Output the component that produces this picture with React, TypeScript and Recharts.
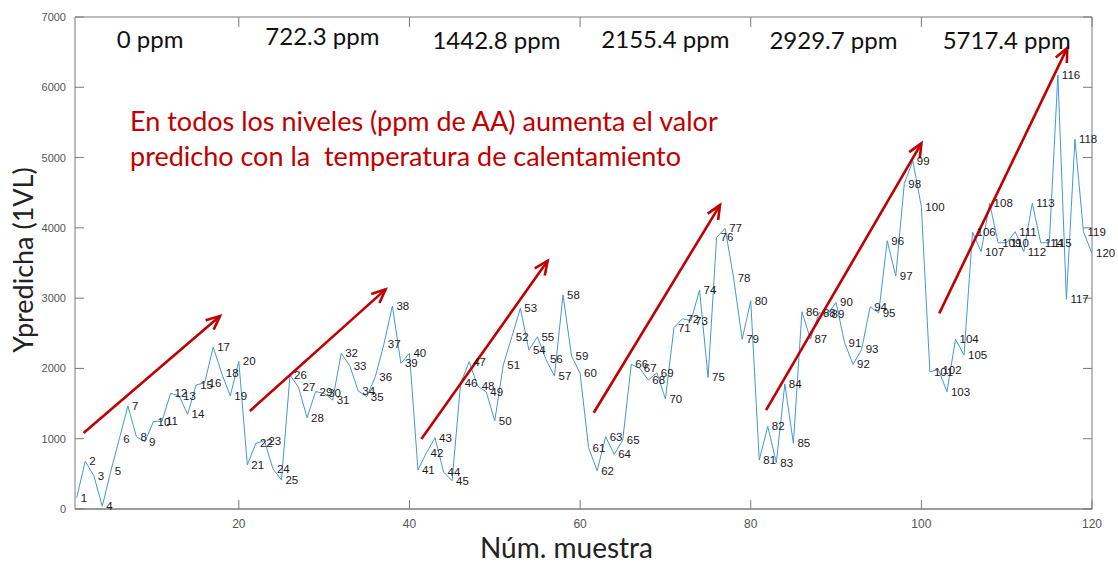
import React from 'react';
import {
  LineChart, Line, XAxis, YAxis, LabelList, ReferenceLine, ReferenceDot,
} from 'recharts';

// Ypredicha (1VL) per sample, samples 1..120
const yPred = [
  160, 680, 475, 40, 540, 1000, 1465, 1028, 957, 1245,
  1252, 1646, 1612, 1347, 1764, 1797, 2304, 1930, 1607, 2100,
  626, 935, 970, 573, 412, 1906, 1731, 1299, 1669, 1646,
  1550, 2215, 2039, 1679, 1598, 1882, 2343, 2888, 2073, 2215,
  555, 801, 1014, 526, 403, 1790, 2095, 1750, 1664, 1256,
  2048, 2451, 2855, 2262, 2451, 2129, 1892, 3044, 2176, 1930,
  872, 545, 1028, 778, 981, 2058, 2001, 1835, 1939, 1565,
  2579, 2707, 2679, 3115, 1873, 3865, 3993, 3282, 2414, 2963,
  697, 1176, 659, 1778, 935, 2807, 2418, 2792, 2770, 2940,
  2366, 2058, 2272, 2878, 2792, 3817, 3314, 4630, 4955, 4300,
  1950, 1985, 1669, 2414, 2191, 3940, 3660, 4349, 3788, 3788,
  3945, 3660, 4349, 3788, 3788, 6174, 2983, 5259, 3945, 3637,
];

const xTicks = [20, 40, 60, 80, 100, 120];
const yTicks = [0, 1000, 2000, 3000, 4000, 5000, 6000, 7000];

const ppmLabels = ['0 ppm', '722.3 ppm', '1442.8 ppm', '2155.4 ppm', '2929.7 ppm', '5717.4 ppm'];
const ppmX = [9.6, 29.8, 50.2, 70, 89.7, 110];
const ppmY = [6690, 6740, 6680, 6690, 6680, 6680];

// red trend arrows, [x1, y1, x2, y2] in data units
const arrows = [
  [1.8, 1080, 17.8, 2745],
  [21.3, 1394, 37.2, 3125],
  [41.4, 996, 56.2, 3532],
  [61.6, 1370, 76.4, 4324],
  [81.8, 1408, 100.0, 5202],
  [102.1, 2784, 117.1, 6560],
];

const noteLines = [
  'En todos los niveles (ppm de AA) aumenta el valor',
  'predicho con la  temperatura de calentamiento',
];

const data = yPred.map((v, i) => ({ n: i + 1, y: v }));

const AXIS = '#7a7a7a';
const TICK_TXT = '#555';
const RED = '#c00000';

const LeftTick = ({ x, y, payload }: any) => (
  <g>
    <line x1={x + 9} x2={x + 18} y1={y} y2={y} stroke={AXIS} />
    <text x={x} y={y} dy={4} textAnchor="end" fill={TICK_TXT} fontSize={11} fontFamily="Liberation Sans, Arial">
      {payload.value}
    </text>
  </g>
);

const RightTick = ({ x, y }: any) => (
  <line x1={x - 9} x2={x} y1={y} y2={y} stroke={AXIS} />
);

const BottomTick = ({ x, y, payload }: any) => (
  <g>
    <line x1={x} x2={x} y1={y - 8} y2={y - 17} stroke={AXIS} />
    <text x={x} y={y} dy={11} textAnchor="middle" fill={TICK_TXT} fontSize={12} fontFamily="Liberation Sans, Arial">
      {payload.value}
    </text>
  </g>
);

const TopTick = ({ x, y }: any) => (
  <line x1={x} x2={x} y1={y} y2={y + 10} stroke={AXIS} />
);

const Arrow = (p: any) => {
  const { x1, y1, x2, y2 } = p;
  const ang = Math.atan2(y2 - y1, x2 - x1);
  const L = 15;
  const a = 0.42;
  const h1 = [x2 - L * Math.cos(ang - a), y2 - L * Math.sin(ang - a)];
  const h2 = [x2 - L * Math.cos(ang + a), y2 - L * Math.sin(ang + a)];
  return (
    <g>
      <line x1={x1} y1={y1} x2={x2} y2={y2} stroke={RED} strokeWidth={2.6} />
      <polyline
        points={`${h1[0]},${h1[1]} ${x2},${y2} ${h2[0]},${h2[1]}`}
        fill="none" stroke={RED} strokeWidth={2.6}
      />
    </g>
  );
};

export default function App() {
  return (
    <div style={{ position: 'absolute', left: 0, top: 0, background: '#fff' }}>
      <LineChart width={1118} height={565} data={data} margin={{ top: 16, right: 25, bottom: 0, left: 0 }}>
        <XAxis
          xAxisId="b" dataKey="n" type="number" domain={[0.8, 120]} ticks={xTicks}
          allowDataOverflow height={56} tickSize={0} tickMargin={8} tickLine={false}
          stroke={AXIS} strokeWidth={1.5} tick={<BottomTick />}
          label={{
            content: ({ viewBox }: any) => (
              <text x={viewBox.x + viewBox.width / 2 - 17} y={558} textAnchor="middle"
                fontSize={28} fontFamily="Lato, sans-serif" fill="#222">Núm. muestra</text>
            ),
          }}
        />
        <XAxis
          xAxisId="t" orientation="top" dataKey="n" type="number" domain={[0.8, 120]} ticks={xTicks}
          allowDataOverflow height={1} tickSize={0} tickMargin={0} tickLine={false}
          stroke={AXIS} tick={<TopTick />}
        />
        <YAxis
          yAxisId="l" type="number" domain={[0, 7000]} ticks={yTicks} width={75}
          tickSize={0} tickMargin={9} tickLine={false} stroke={AXIS}
          tick={<LeftTick />}
          label={{
            content: ({ viewBox }: any) => {
              const cy = viewBox.y + viewBox.height / 2 - 3;
              return (
                <text x={22} y={cy} transform={`rotate(-90, 22, ${cy})`} textAnchor="middle"
                  dominantBaseline="central" fontSize={27} fontFamily="Lato, sans-serif" fill="#222">
                  Ypredicha (1VL)
                </text>
              );
            },
          }}
        />
        <YAxis
          yAxisId="r" orientation="right" type="number" domain={[0, 7000]} ticks={yTicks} width={1}
          tickSize={0} tickMargin={0} tickLine={false} stroke={AXIS} tick={<RightTick />}
        />
        <Line
          xAxisId="b" yAxisId="l" dataKey="y" type="linear" stroke="#4497da" strokeWidth={1}
          dot={false} isAnimationActive={false}
        >
          <LabelList dataKey="n" position="right" offset={4} fill="#1a1a1a" fontSize={11.5}
            fontFamily="Liberation Sans, Arial" />
        </Line>
        <Line xAxisId="t" yAxisId="r" dataKey="y" stroke="none" dot={false} isAnimationActive={false} legendType="none" />
        {arrows.map((a, i) => (
          <ReferenceLine
            key={`a${i}`} xAxisId="b" yAxisId="l"
            segment={[{ x: a[0], y: a[1] }, { x: a[2], y: a[3] }]}
            shape={Arrow}
          />
        ))}
        {ppmLabels.map((t, i) => (
          <ReferenceDot
            key={`p${i}`} xAxisId="b" yAxisId="l" x={ppmX[i]} y={ppmY[i]} r={0}
            shape={(p: any) => (
              <text x={p.cx} y={p.cy} textAnchor="middle" dominantBaseline="central"
                fontSize={24} fontFamily="Lato, sans-serif" fill="#111">{t}</text>
            )}
          />
        ))}
        <ReferenceDot
          xAxisId="b" yAxisId="l" x={7.25} y={5533} r={0}
          shape={(p: any) => (
            <text x={p.cx} y={p.cy} fontSize={27} fontFamily="Lato, sans-serif" fill={RED}
              dominantBaseline="central" style={{ whiteSpace: 'pre' }}>
              <tspan x={p.cx} dy={0}>{noteLines[0]}</tspan>
              <tspan x={p.cx} dy={35}>{noteLines[1]}</tspan>
            </text>
          )}
        />
      </LineChart>
    </div>
  );
}
